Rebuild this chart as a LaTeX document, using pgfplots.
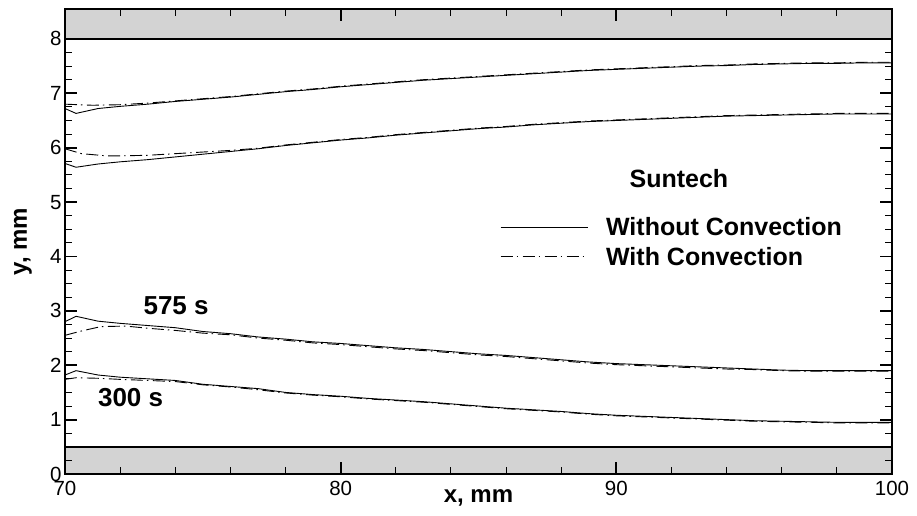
\documentclass[border=0pt]{standalone}
\usepackage{pgfplots}
\pgfplotsset{compat=1.18}
\usepackage{fontspec}
\setmainfont{Liberation Sans}
\definecolor{band}{RGB}{211,211,211}
\tikzset{dashdotx/.style={dash pattern=on 12bp off 4bp on 1.5bp off 4.5bp}}
\begin{document}
\begin{tikzpicture}
\begin{axis}[
  scale only axis,
  width=827bp, height=465bp,
  xmin=70, xmax=100, ymin=0, ymax=8.55,
  xtick={70,80,90,100}, ytick={0,1,2,3,4,5,6,7,8},
  minor x tick num=4, minor y tick num=3,
  tick align=inside,
  major tick length=12bp, minor tick length=7bp,
  major tick style={line width=1.8bp, black},
  minor tick style={line width=0.9bp, black},
  axis line style={line width=2.5bp},
  axis on top,
  /pgf/number format/assume math mode=true,
  tick label style={font=\fontsize{20.5bp}{24bp}\selectfont},
  xticklabel style={yshift=-4bp},
  xlabel={\textbf{x, mm}}, ylabel={\textbf{y, mm}},
  label style={font=\fontsize{24bp}{28bp}\selectfont},
  xlabel style={at={(axis description cs:0.5,-0.052)}, anchor=center},
  ylabel style={at={(axis description cs:-0.051,0.5)}, anchor=center, rotate=0},
  legend style={draw=none, fill=none, at={(axis cs:85.78,4.76)}, anchor=north west,
    font=\fontsize{25bp}{30bp}\selectfont\bfseries, row sep=6bp, inner sep=0pt,
    cells={anchor=west},
    /tikz/every odd column/.style={column sep=16bp}},
  legend image code/.code={\draw[#1] (0bp,0bp) -- (87bp,0bp);},
  legend cell align=left,
]
% gray bands
\addplot[fill=band, draw=none, forget plot] coordinates {(70,0) (100,0) (100,0.5) (70,0.5)} -- cycle;
\addplot[fill=band, draw=none, forget plot] coordinates {(70,8) (100,8) (100,8.55) (70,8.55)} -- cycle;
\addplot[black, line width=2.2bp, forget plot] coordinates {(70,0.5) (100,0.5)};
\addplot[black, line width=2.2bp, forget plot] coordinates {(70,8) (100,8)};

% Without convection (solid)
\addplot[black, line width=0.9bp] coordinates {(70,6.72) (70.4,6.63) (71.2,6.72) (72,6.76) (73,6.80) (74,6.85) (75,6.89) (76,6.93) (77,6.98) (78,7.03) (79,7.07) (80,7.12) (81,7.16) (82,7.20) (83,7.24) (84,7.27) (85,7.30) (86,7.33) (87,7.36) (88,7.39) (89,7.42) (90,7.44) (91,7.46) (92,7.48) (93,7.50) (94,7.51) (95,7.53) (96,7.54) (97,7.55) (98,7.55) (99,7.56) (100,7.56)};
\addlegendentry{Without Convection}
% With convection (dash-dot)
\addplot[black, line width=0.9bp, dashdotx] coordinates {(70,6.80) (71,6.78) (72,6.79) (73,6.82) (74,6.86) (75,6.90) (76,6.94) (77,6.99) (78,7.04) (79,7.08) (80,7.13) (81,7.17) (82,7.21) (83,7.25) (84,7.28) (85,7.31) (86,7.34) (87,7.37) (88,7.40) (89,7.43) (90,7.45) (91,7.47) (92,7.49) (93,7.51) (94,7.52) (95,7.54) (96,7.55) (97,7.56) (98,7.56) (99,7.57) (100,7.57)};
\addlegendentry{With Convection}

\addplot[black, line width=0.9bp, forget plot] coordinates {(70,5.71) (70.4,5.64) (71.2,5.70) (72,5.74) (73,5.78) (74,5.83) (75,5.88) (76,5.93) (77,5.98) (78,6.04) (79,6.09) (80,6.14) (81,6.18) (82,6.23) (83,6.27) (84,6.31) (85,6.35) (86,6.38) (87,6.42) (88,6.45) (89,6.48) (90,6.50) (91,6.52) (92,6.54) (93,6.56) (94,6.58) (95,6.59) (96,6.60) (97,6.61) (98,6.62) (99,6.62) (100,6.62)};
\addplot[black, line width=0.9bp, dashdotx, forget plot] coordinates {(70,5.98) (70.6,5.89) (71.5,5.85) (72,5.85) (73,5.86) (74,5.89) (75,5.92) (76,5.95) (77,5.99) (78,6.05) (79,6.10) (80,6.15) (81,6.19) (82,6.24) (83,6.28) (84,6.32) (85,6.36) (86,6.39) (87,6.43) (88,6.46) (89,6.49) (90,6.51) (91,6.53) (92,6.55) (93,6.57) (94,6.59) (95,6.60) (96,6.61) (97,6.62) (98,6.63) (99,6.63) (100,6.63)};

% 575 s
\addplot[black, line width=0.9bp, forget plot] coordinates {(70,2.80) (70.4,2.90) (71.2,2.81) (72,2.77) (73,2.73) (74,2.69) (75,2.62) (76,2.58) (77,2.52) (78,2.48) (79,2.43) (80,2.40) (81,2.36) (82,2.32) (83,2.29) (84,2.25) (85,2.21) (86,2.18) (87,2.14) (88,2.10) (89,2.06) (90,2.03) (91,2.01) (92,1.99) (93,1.97) (94,1.95) (95,1.93) (96,1.91) (97,1.90) (98,1.90) (99,1.90) (100,1.90)};
\addplot[black, line width=0.9bp, dashdotx, forget plot] coordinates {(70,2.55) (70.6,2.63) (71.3,2.71) (72.2,2.72) (73,2.68) (74,2.64) (75,2.59) (76,2.56) (77,2.50) (78,2.46) (79,2.41) (80,2.38) (81,2.34) (82,2.30) (83,2.27) (84,2.23) (85,2.19) (86,2.16) (87,2.12) (88,2.08) (89,2.04) (90,2.01) (91,1.99) (92,1.97) (93,1.95) (94,1.93) (95,1.92) (96,1.90) (97,1.89) (98,1.89) (99,1.89) (100,1.89)};

% 300 s
\addplot[black, line width=0.9bp, forget plot] coordinates {(70,1.82) (70.4,1.90) (71.2,1.82) (72,1.78) (73,1.75) (74,1.72) (75,1.65) (76,1.61) (77,1.57) (78,1.50) (79,1.46) (80,1.43) (81,1.39) (82,1.36) (83,1.33) (84,1.29) (85,1.25) (86,1.21) (87,1.18) (88,1.15) (89,1.11) (90,1.08) (91,1.06) (92,1.04) (93,1.02) (94,1.00) (95,0.98) (96,0.97) (97,0.96) (98,0.95) (99,0.95) (100,0.95)};
\addplot[black, line width=0.9bp, dashdotx, forget plot] coordinates {(70,1.74) (70.4,1.77) (71.2,1.76) (72,1.74) (73,1.72) (74,1.70) (75,1.64) (76,1.60) (77,1.55) (78,1.49) (79,1.45) (80,1.42) (81,1.38) (82,1.35) (83,1.32) (84,1.28) (85,1.24) (86,1.20) (87,1.17) (88,1.14) (89,1.10) (90,1.07) (91,1.05) (92,1.03) (93,1.01) (94,0.99) (95,0.97) (96,0.96) (97,0.95) (98,0.94) (99,0.94) (100,0.94)};

\node[font=\fontsize{26bp}{30bp}\selectfont\bfseries] at (axis cs:74.03,3.09) {575 s};
\node[font=\fontsize{26bp}{30bp}\selectfont\bfseries] at (axis cs:72.38,1.40) {300 s};
\node[font=\fontsize{25bp}{30bp}\selectfont\bfseries] at (axis cs:92.27,5.44) {Suntech};

\coordinate (SW) at (rel axis cs:0,0);
\coordinate (NE) at (rel axis cs:1,1);
\end{axis}
\pgfresetboundingbox
\path ([shift={(-65bp,-42bp)}]SW) rectangle ([shift={(25bp,9bp)}]NE);
\end{tikzpicture}
\end{document}
